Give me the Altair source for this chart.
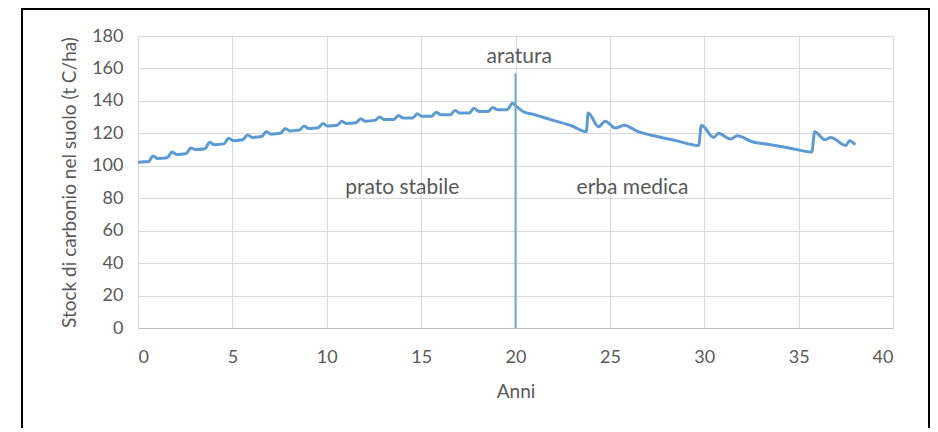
import altair as alt
import pandas as pd

# Soil carbon stock (t C/ha) vs years
years = [0, 0.3, 0.55, 0.8, 1.05, 1.55, 1.8, 2.05, 2.55, 2.8, 3.05, 3.55, 3.8, 4.05,
         4.55, 4.8, 5.05, 5.55, 5.8, 6.05, 6.55, 6.8, 7.05, 7.55, 7.8, 8.05, 8.55, 8.8,
         9.05, 9.55, 9.8, 10.05, 10.55, 10.8, 11.05, 11.55, 11.8, 12.05, 12.55, 12.8,
         13.05, 13.55, 13.8, 14.05, 14.55, 14.8, 15.05, 15.55, 15.8, 16.05, 16.55, 16.8,
         17.05, 17.55, 17.8, 18.05, 18.55, 18.8, 19.05, 19.55, 19.85,
         20.1, 20.4, 21.0, 22.0, 23.0, 23.75, 23.85, 24.4, 24.75, 25.3, 25.75, 26.5,
         27.5, 28.5, 29.7, 29.85, 30.5, 30.75, 31.4, 31.75, 32.5, 33.5, 34.5, 35.7,
         35.85, 36.4, 36.7, 37.5, 37.7, 38.0]
stock = [102, 102.5, 102.5, 106, 104.5, 105, 108.5, 107, 107.5, 111, 110, 110.5, 114.5, 113,
         113.5, 117, 115.5, 116, 119, 117.5, 118, 121, 119.5, 120, 123, 121.5, 122, 124.5,
         123, 123.5, 126, 124.5, 125, 127.5, 126, 126.5, 129, 127.5, 128, 130,
         128.5, 128.5, 131, 129.5, 129.5, 132, 130.5, 130.5, 133, 131.5, 131.5, 134,
         132.5, 132.5, 135.5, 133.5, 133.5, 136, 134.5, 134.5, 138.5,
         136, 133.5, 131.5, 128, 124.5, 121, 132.5, 124, 127.5, 123.3, 125, 121,
         118, 115.5, 112.5, 125, 117.5, 120, 116.5, 118.5, 115, 113, 111, 108.5,
         121, 116, 117.5, 112.5, 115.5, 113]

x_ticks = [0, 5, 10, 15, 20, 25, 30, 35, 40]
y_ticks = [0, 20, 40, 60, 80, 100, 120, 140, 160, 180]

plow_year = [20]
plow_top = [157]

label_text = ["aratura", "prato stabile", "erba medica"]
label_x = [20.2, 14.0, 26.2]
label_y = [167, 86, 86]

df = pd.DataFrame({"Anni": years, "Stock": stock})
df_rule = pd.DataFrame({"Anni": plow_year, "Stock": [0], "top": plow_top})
df_text = pd.DataFrame({"t": label_text, "Anni": label_x, "Stock": label_y})

W, H = 755, 292
FONT = "Lato"
GRAY = "#595959"
BLUE = "#5B9BD5"

X = alt.X("Anni:Q", scale=alt.Scale(domain=[0, 40], nice=False, zero=False),
          axis=alt.Axis(title="Anni", values=x_ticks, grid=True, ticks=False,
                        domain=True, domainColor="#BFBFBF", labelOverlap=False,
                        labelPadding=20, titlePadding=16))
Y = alt.Y("Stock:Q", scale=alt.Scale(domain=[0, 180], nice=False),
          axis=alt.Axis(title="Stock di carbonio nel suolo (t C/ha)",
                        values=y_ticks, grid=True, ticks=False, labelOverlap=False,
                        domain=False, labelPadding=15, titlePadding=12))

line = alt.Chart(df).mark_line(color=BLUE, strokeWidth=3, interpolate="monotone").encode(x=X, y=Y)

rule = alt.Chart(df_rule).mark_rule(color="#6FA8DC", strokeWidth=2).encode(
    x=X, y=Y, y2="top:Q"
)

texts = alt.Chart(df_text).mark_text(font=FONT, fontSize=21, color=GRAY).encode(
    x=X, y=Y, text="t:N"
)

frame = alt.Chart(df_rule).mark_rect(fill=None, stroke="black", strokeWidth=2, clip=False).encode(
    x=alt.value(-116), x2=alt.value(791), y=alt.value(-27), y2=alt.value(420)
)

chart = alt.layer(line, rule, texts, frame).properties(
    width=W, height=H,
    autosize=alt.AutoSizeParams(type="none"),
    padding={"left": 130, "top": 28, "right": 37, "bottom": 100},
).configure_view(stroke=None).configure_axis(
    gridColor="#D9D9D9", gridWidth=1, labelFont=FONT, titleFont=FONT,
    labelFontSize=18, titleFontSize=19, labelColor=GRAY, titleColor=GRAY,
    titleFontWeight="normal",
)

chart.save("out.html", embed_options={"renderer": "svg", "actions": False})
